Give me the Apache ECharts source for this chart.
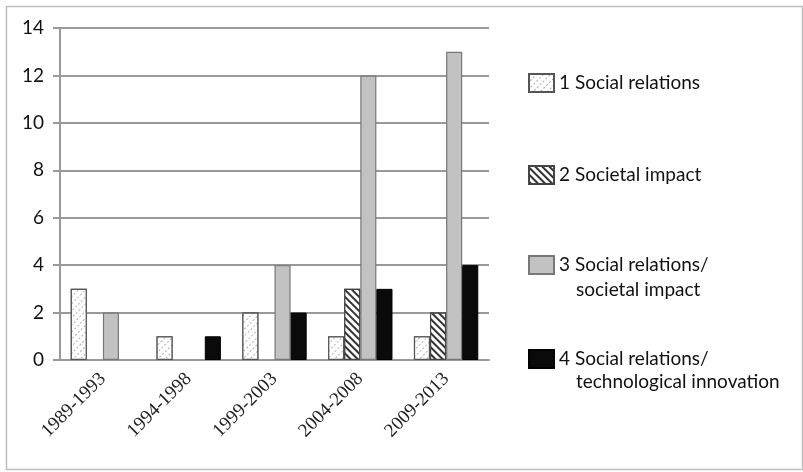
<!DOCTYPE html>
<html>
<head>
<meta charset="utf-8">
<script src="https://cdn.jsdelivr.net/npm/echarts@6/dist/echarts.min.js"></script>
<style>
  html, body { margin: 0; padding: 0; background: #fff; }
  #chart { width: 803px; height: 472px; }
</style>
</head>
<body>
<div id="chart"></div>
<script>
// 数据
var categories = ['1989-1993', '1994-1998', '1999-2003', '2004-2008', '2009-2013'];
var seriesNames = [
    '1 Social relations',
    '2 Societal impact',
    '3 Social relations/ societal impact',
    '4 Social relations/ technological innovation'
];
var socialRelations = [3, 1, 2, 1, 1];
var societalImpact = [null, null, null, 3, 2];
var relationsImpact = [2, null, 4, 12, 13];
var relationsInnovation = [null, 1, 2, 3, 4];
var yTicks = [0, 2, 4, 6, 8, 10, 12, 14];

(function () {
    var mycharts = echarts.init(document.getElementById('chart'));
    var sansFont = 'Lato, "Noto Sans", sans-serif';

    // 每个系列的填充样式
    var styles = [
        {
            color: '#fff', borderColor: '#555', borderWidth: 1.2,
            decal: { symbol: 'rect', color: '#b0b0b0', backgroundColor: '#fff',
                dashArrayX: [[2, 2]], dashArrayY: [1, 4], rotation: -Math.PI / 4 }
        },
        {
            color: '#fff', borderColor: '#444', borderWidth: 1.2,
            decal: { symbol: 'rect', color: '#333', backgroundColor: '#fff',
                dashArrayX: [1, 0], dashArrayY: [2, 3], rotation: Math.PI / 4 }
        },
        { color: '#c2c2c2', borderColor: '#777', borderWidth: 1.2 },
        { color: '#0a0a0a', borderColor: '#000', borderWidth: 1 }
    ];
    var datas = [socialRelations, societalImpact, relationsImpact, relationsInnovation];

    var series = seriesNames.map(function (name, i) {
        return {
            name: name,
            type: 'bar',
            data: datas[i],
            barGap: 0,
            barCategoryGap: '25%',
            itemStyle: styles[i]
        };
    });

    // 图例：每项单独放置
    var legendTops = [68, 160, 250, 344];
    var legends = seriesNames.map(function (name, i) {
        return {
            data: [name],
            left: 523,
            top: legendTops[i],
            itemWidth: 25,
            itemHeight: 18,
            itemGap: 6,
            icon: 'rect',
            selectedMode: false,
            formatter: function (n) { return n.split('/ ')[0] + (n.indexOf('/ ') > 0 ? '/' : ''); },
            textStyle: { fontFamily: sansFont, fontSize: 19, color: '#111' }
        };
    });

    var option = {
        animation: false,
        aria: { enabled: false, decal: { show: true } },
        color: ['#fff', '#fff', '#c2c2c2', '#0a0a0a'],
        grid: { left: 60, right: 314, top: 28, bottom: 112 },
        legend: legends,
        xAxis: {
            type: 'category',
            data: categories,
            axisLine: { lineStyle: { color: '#999', width: 2 } },
            axisTick: { length: 5, lineStyle: { color: '#999', width: 2 } },
            axisLabel: {
                rotate: 45,
                margin: 16,
                fontFamily: '"Liberation Serif", "DejaVu Serif", serif',
                fontSize: 19,
                color: '#222'
            }
        },
        yAxis: {
            type: 'value',
            min: yTicks[0],
            max: yTicks[yTicks.length - 1],
            interval: 2,
            axisLine: { show: true, lineStyle: { color: '#999', width: 2 } },
            axisTick: { show: true, length: 7, lineStyle: { color: '#999', width: 2 } },
            splitLine: { lineStyle: { color: '#999', width: 2 } },
            axisLabel: { fontFamily: sansFont, fontSize: 19, color: '#111', margin: 16 }
        },
        graphic: [
            {
                type: 'rect', left: 4, top: 4, silent: true,
                shape: { width: 796, height: 463 },
                style: { fill: 'none', stroke: '#bdbdbd', lineWidth: 1.5 }
            },
            {
                type: 'text', left: 576, top: 280,
                style: { text: 'societal impact', font: '19px ' + sansFont, fill: '#111' }
            },
            {
                type: 'text', left: 576, top: 372,
                style: { text: 'technological innovation', font: '19px ' + sansFont, fill: '#111' }
            }
        ],
        series: series
    };
    mycharts.setOption(option);
    window.addEventListener('resize', function () {
        mycharts.resize();
    });
})();
</script>
</body>
</html>
